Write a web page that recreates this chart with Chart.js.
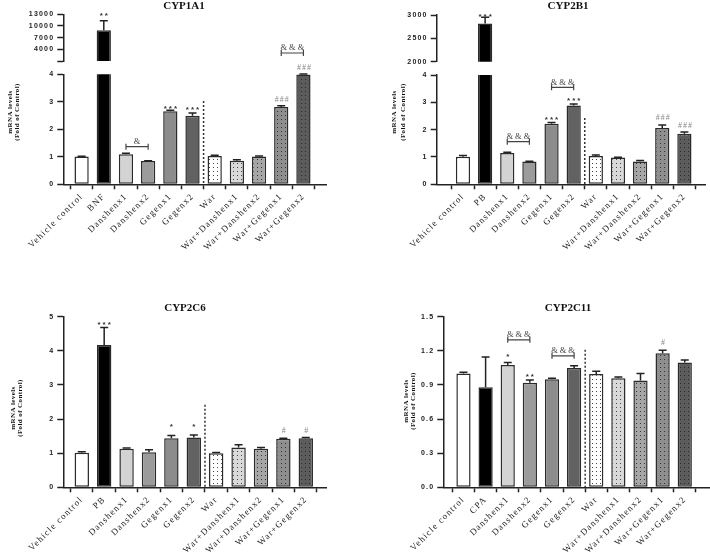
<!DOCTYPE html>
<html>
<head>
<meta charset="utf-8">
<script src="https://cdn.jsdelivr.net/npm/chart.js@4.4.0/dist/chart.umd.min.js"></script>
<style>
  body { margin: 0; background: #fff; width: 710px; height: 553px; position: relative; overflow: hidden; }
  canvas { position: absolute; }
</style>
</head>
<body>
<script>
// groups on the x axis
const groupsBNF = ['Vehicle control', 'BNF', 'Danshenx1', 'Danshenx2', 'Gegenx1', 'Gegenx2', 'War', 'War+Danshenx1', 'War+Danshenx2', 'War+Gegenx1', 'War+Gegenx2'];
const groupsPB = ['Vehicle control', 'PB', 'Danshenx1', 'Danshenx2', 'Gegenx1', 'Gegenx2', 'War', 'War+Danshenx1', 'War+Danshenx2', 'War+Gegenx1', 'War+Gegenx2'];
const groupsCPA = ['Vehicle control', 'CPA', 'Danshenx1', 'Danshenx2', 'Gegenx1', 'Gegenx2', 'War', 'War+Danshenx1', 'War+Danshenx2', 'War+Gegenx1', 'War+Gegenx2'];

// mean and SEM (fold of control)
const cyp1a1Mean = [1.01, 8930, 1.09, 0.85, 2.66, 2.49, 1.03, 0.86, 1.01, 2.81, 3.99];
const cyp1a1Sem = [0.01, 2420, 0.04, 0.01, 0.03, 0.10, 0.03, 0.03, 0.02, 0.045, 0.02];
const cyp2b1Mean = [1.01, 2820, 1.15, 0.83, 2.22, 2.88, 1.04, 0.98, 0.83, 2.06, 1.85];
const cyp2b1Sem = [0.04, 130, 0.02, 0.01, 0.04, 0.06, 0.03, 0.01, 0.04, 0.11, 0.06];
const cyp2c6Mean = [1.01, 4.17, 1.13, 1.03, 1.44, 1.46, 1.00, 1.17, 1.13, 1.42, 1.44];
const cyp2c6Sem = [0.03, 0.51, 0.02, 0.07, 0.08, 0.07, 0.02, 0.08, 0.04, 0.02, 0.02];
const cyp2c11Mean = [1.00, 0.88, 1.076, 0.92, 0.95, 1.05, 0.997, 0.959, 0.938, 1.179, 1.097];
const cyp2c11Sem = [0.012, 0.265, 0.021, 0.024, 0.009, 0.018, 0.024, 0.011, 0.062, 0.027, 0.023];

// y tick values
const ticks1a1Low = [0, 1, 2, 3, 4];
const ticks1a1High = [1000, 4000, 7000, 10000, 13000];
const ticks2b1Low = [0, 1, 2, 3, 4];
const ticks2b1High = [2000, 2500, 3000];
const ticks2c6 = [0, 1, 2, 3, 4, 5];
const ticks2c11 = [0, 0.3, 0.6, 0.9, 1.2, 1.5];

// significance marks
const notes1a1High = [{ i: 1, v: 13100, t: '**' }, { i0: 9, i1: 10, v: 3050, t: '&&&' }];
const notes1a1Low = [{ i0: 2, i1: 3, v: 1.37, t: '&' }, { i: 4, v: 2.83, t: '***' }, { i: 5, v: 2.77, t: '***' },
  { i: 9, v: 3.07, t: '###', g: 1 }, { i: 10, v: 4.25, t: '###', g: 1 }];
const notes2b1High = [{ i: 1, v: 3010, t: '***' }];
const notes2b1Low = [{ i0: 2, i1: 3, v: 1.56, t: '&&&' }, { i: 4, v: 2.44, t: '***' }, { i: 5, v: 3.12, t: '***' },
  { i0: 4, i1: 5, v: 3.55, t: '&&&' }, { i: 9, v: 2.44, t: '###', g: 1 }, { i: 10, v: 2.15, t: '###', g: 1 }];
const notes2c6 = [{ i: 1, v: 4.82, t: '***' }, { i: 4, v: 1.83, t: '*' }, { i: 5, v: 1.83, t: '*' },
  { i: 9, v: 1.64, t: '#', g: 1 }, { i: 10, v: 1.64, t: '#', g: 1 }];
const notes2c11 = [{ i0: 2, i1: 3, v: 1.297, t: '&&&' }, { i: 2, v: 1.165, t: '*' }, { i: 3, v: 0.99, t: '**' },
  { i0: 4, i1: 5, v: 1.156, t: '&&&' }, { i: 9, v: 1.268, t: '#', g: 1 }];

function dots(bg, dot) {
  const c = document.createElement('canvas');
  c.width = 4; c.height = 4;
  const g = c.getContext('2d');
  g.fillStyle = bg; g.fillRect(0, 0, 4, 4);
  g.fillStyle = dot; g.fillRect(1, 1, 1, 1);
  return g.createPattern(c, 'repeat');
}

const fills = ['#ffffff', '#000000', '#d3d3d3', '#9b9b9b', '#8c8c8c', '#626262',
  dots('#ffffff', '#444'), dots('#d9d9d9', '#444'), dots('#a6a6a6', '#333'), dots('#8e8e8e', '#333'), dots('#5c5c5c', '#2a2a2a')];

const deco = {
  id: 'deco',
  beforeDraw(chart) { chart.ctx.letterSpacing = '1.2px'; },
  afterDatasetsDraw(chart, args, o) {
    const ctx = chart.ctx, x = chart.scales.x, y = chart.scales.y, a = chart.chartArea;
    ctx.save();
    ctx.letterSpacing = '0px';
    // error bars
    ctx.save();
    ctx.beginPath();
    ctx.rect(a.left - 10, a.top - 2, a.right - a.left + 20, a.bottom - a.top + 2);
    ctx.clip();
    ctx.strokeStyle = '#222'; ctx.lineWidth = 1.5;
    o.mean.forEach((v, i) => {
      const px = x.getPixelForValue(i);
      const y0 = y.getPixelForValue(v), y1 = y.getPixelForValue(v + o.sem[i]);
      ctx.beginPath();
      ctx.moveTo(px, y0); ctx.lineTo(px, y1);
      ctx.moveTo(px - 4, y1); ctx.lineTo(px + 4, y1);
      ctx.stroke();
    });
    ctx.restore();
    // dotted divider
    if (o.divider !== undefined) {
      const dx = x.getPixelForValue(5.5);
      ctx.save();
      ctx.strokeStyle = '#333'; ctx.lineWidth = 1.5; ctx.setLineDash([2, 2]);
      ctx.beginPath(); ctx.moveTo(dx, y.getPixelForValue(o.divider)); ctx.lineTo(dx, a.bottom); ctx.stroke();
      ctx.restore();
    }
    // marks
    ctx.textAlign = 'center'; ctx.textBaseline = 'middle';
    (o.notes || []).forEach(n => {
      const py = y.getPixelForValue(n.v);
      if (n.i0 !== undefined) {
        const xa = x.getPixelForValue(n.i0), xb = x.getPixelForValue(n.i1);
        ctx.strokeStyle = '#444'; ctx.lineWidth = 1.2;
        ctx.beginPath();
        ctx.moveTo(xa, py); ctx.lineTo(xb, py);
        ctx.moveTo(xa, py - 3); ctx.lineTo(xa, py + 3);
        ctx.moveTo(xb, py - 3); ctx.lineTo(xb, py + 3);
        ctx.stroke();
        ctx.fillStyle = '#444';
        ctx.font = '8.5px "Liberation Serif"';
        ctx.letterSpacing = '2px';
        ctx.fillText(n.t, (xa + xb) / 2 + 1, py - 5);
      } else {
        ctx.fillStyle = n.g ? '#8a8a8a' : '#333';
        ctx.font = n.g ? '8px "Liberation Serif"' : 'bold 8px "Liberation Sans"';
        ctx.letterSpacing = n.g ? '1px' : '2px';
        ctx.fillText(n.t, x.getPixelForValue(n.i) + 1, py + (n.g ? 0 : 2));
      }
    });
    ctx.letterSpacing = '0px';
    ctx.fillStyle = '#111';
    if (o.title) {
      ctx.font = 'bold 11px "Liberation Serif"';
      ctx.fillText(o.title.text, o.title.x, o.title.y);
    }
    if (o.ytitle) {
      ctx.font = 'bold 7px "Liberation Serif"';
      ctx.letterSpacing = '0.4px';
      [['mRNA levels', o.ytitle.x1], ['(Fold of Control)', o.ytitle.x2]].forEach(([t, tx]) => {
        ctx.save();
        ctx.translate(tx, o.ytitle.y);
        ctx.rotate(-Math.PI / 2);
        ctx.fillText(t, 0, 0);
        ctx.restore();
      });
    }
    ctx.restore();
  }
};

function drawPanel(p) {
  const cv = document.createElement('canvas');
  cv.width = p.w; cv.height = p.h;
  cv.style.left = p.left + 'px'; cv.style.top = p.top + 'px';
  document.body.appendChild(cv);
  new Chart(cv, {
    type: 'bar',
    data: {
      datasets: [{
        data: p.mean.map((v, i) => ({ x: i, y: v })),
        backgroundColor: fills,
        borderColor: '#2b2b2b',
        borderWidth: 1.5,
        borderSkipped: false,
        barPercentage: 0.643,
        categoryPercentage: 1,
        clip: { left: 10, right: 10, top: 0, bottom: 0 }
      }]
    },
    options: {
      responsive: false,
      animation: false,
      events: [],
      layout: { padding: { top: p.padTop, right: p.padRight, bottom: p.padBottom || 0, left: 0 } },
      plugins: {
        legend: { display: false },
        tooltip: { enabled: false },
        deco: { mean: p.mean, sem: p.sem, notes: p.notes, divider: p.divider, title: p.title, ytitle: p.ytitle }
      },
      scales: {
        x: {
          type: 'linear',
          display: p.showX,
          min: p.xMin,
          max: p.xMax,
          ticks: {
            stepSize: 1, includeBounds: false, autoSkip: false, minRotation: 45, maxRotation: 45,
            padding: 2, color: '#222',
            font: { family: 'Liberation Serif', size: 9 },
            callback: v => p.labels[v] ?? ''
          },
          grid: { drawOnChartArea: false, tickLength: 5, tickColor: '#222', tickWidth: 1.5 },
          border: { color: '#222', width: 1.5 },
          afterFit: s => { s.height = p.xAxisH || 0; }
        },
        y: {
          min: p.ticks[0],
          max: p.ticks[p.ticks.length - 1],
          afterBuildTicks: s => { s.ticks = p.ticks.map(v => ({ value: v })); },
          ticks: {
            padding: 3, color: '#222',
            font: { family: 'Liberation Sans', size: 7, weight: 'bold' },
            callback: (v, k) => (p.blankFirst && k === 0) ? '' : (p.fmt ? p.fmt(v) : v)
          },
          grid: { drawOnChartArea: false, tickLength: 6, tickColor: '#222', tickWidth: 1.5 },
          border: { color: '#222', width: 1.5 },
          afterFit: s => { s.width = p.yAxisW; }
        }
      }
    },
    plugins: [deco]
  });
}

// CYP1A1 (broken axis)
drawPanel({ left: 0, top: 0, w: 355, h: 80, labels: groupsBNF, mean: cyp1a1Mean, sem: cyp1a1Sem, ticks: ticks1a1High, blankFirst: true,
  xMin: -0.287, xMax: 10.48, yAxisW: 63.3, padTop: 14.3, padRight: 29, padBottom: 19, showX: false,
  notes: notes1a1High, title: { text: 'CYP1A1', x: 184, y: 6.5 } });
drawPanel({ left: 0, top: 50, w: 355, h: 205, labels: groupsBNF, mean: cyp1a1Mean, sem: cyp1a1Sem, ticks: ticks1a1Low,
  xMin: -0.287, xMax: 10.48, yAxisW: 63.3, padTop: 24.3, padRight: 29, xAxisH: 70.7, showX: true,
  notes: notes1a1Low, divider: 3.03, ytitle: { x1: 10.5, x2: 17.5, y: 62 } });

// CYP2B1 (broken axis)
drawPanel({ left: 355, top: 0, w: 355, h: 80, labels: groupsPB, mean: cyp2b1Mean, sem: cyp2b1Sem, ticks: ticks2b1High,
  xMin: -0.636, xMax: 10.38, yAxisW: 81.7, padTop: 15, padRight: 5, padBottom: 18.3, showX: false,
  notes: notes2b1High, title: { text: 'CYP2B1', x: 213, y: 6.5 } });
drawPanel({ left: 355, top: 50, w: 355, h: 205, labels: groupsPB, mean: cyp2b1Mean, sem: cyp2b1Sem, ticks: ticks2b1Low,
  xMin: -0.636, xMax: 10.38, yAxisW: 81.7, padTop: 25, padRight: 5, xAxisH: 70.7, showX: true,
  notes: notes2b1Low, divider: 2.43, ytitle: { x1: 39.5, x2: 48, y: 62 } });

// CYP2C6
drawPanel({ left: 0, top: 290, w: 355, h: 263, labels: groupsPB, mean: cyp2c6Mean, sem: cyp2c6Sem, ticks: ticks2c6,
  xMin: -0.292, xMax: 10.37, yAxisW: 63.3, padTop: 26.7, padRight: 29, xAxisH: 65.7, showX: true,
  notes: notes2c6, divider: 2.42, title: { text: 'CYP2C6', x: 185, y: 18 }, ytitle: { x1: 13, x2: 20, y: 118 } });

// CYP2C11
drawPanel({ left: 355, top: 290, w: 355, h: 263, labels: groupsCPA, mean: cyp2c11Mean, sem: cyp2c11Sem, ticks: ticks2c11,
  fmt: v => v.toFixed(1),
  xMin: -0.366, xMax: 10.55, yAxisW: 88.3, padTop: 26.7, padRight: 1, xAxisH: 65.7, showX: true,
  notes: notes2c11, divider: 1.21, title: { text: 'CYP2C11', x: 213, y: 18 }, ytitle: { x1: 51, x2: 58, y: 111 } });
</script>
</body>
</html>
